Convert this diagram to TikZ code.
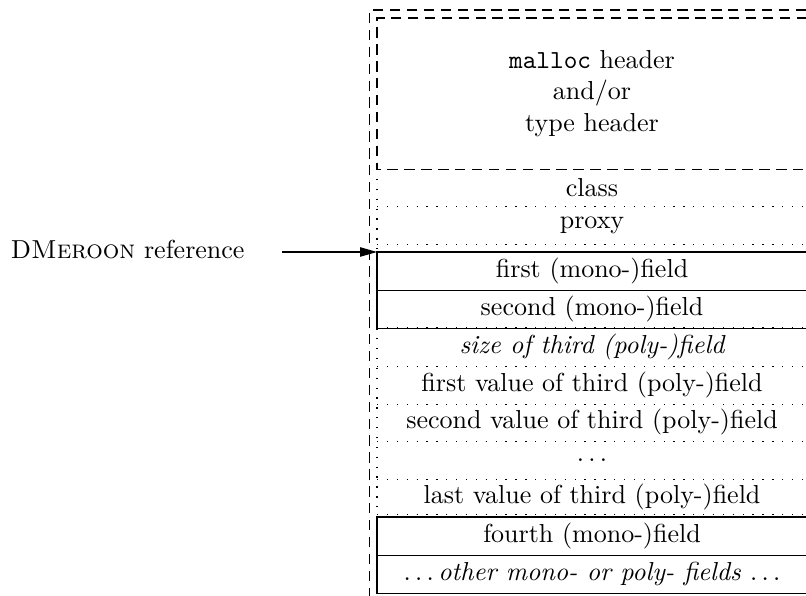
\documentclass[tikz,border=0pt]{standalone}
\usetikzlibrary{arrows.meta}
\begin{document}
\begin{tikzpicture}[x=0.3846pt,y=-0.3846pt,
	row/.style={anchor=north west,minimum width=165pt,minimum height=14.5pt,inner sep=0pt},
	framedash/.style={dash pattern=on 4pt off 2.5pt},
	dots/.style={dash pattern=on 0.5pt off 3.3pt},
	ptr/.style={-{Triangle[length=6.5pt,width=3.6pt]}}]
	\useasboundingbox (0,0) rectangle (806,596);
	\draw[framedash] (806,10) -- (369.5,10) -- (369.5,596);
	
	\node[row,minimum height=57.7pt,align=center] (hdr) at (377,18) {\texttt{malloc} header\\and/or\\type header};
	\draw[framedash] (hdr.north east) -- (hdr.north west) -- (hdr.south west) -- (hdr.south east);
	
	\node[row] (class) at (377,168) {class};
	\node[row] (proxy) at (377,206) {proxy};
	\node[row] (first) at (377,252) {first (mono-)field};
	\node[row] (second) at (377,289.5) {second (mono-)field};
	\draw[dots] (hdr.south west) -- (first.north west);
	\draw[dots] (class.south west) -- (class.south east);
	\draw[dots] (proxy.south west) -- (proxy.south east);
	\draw (first.north east) -- (first.north west) -- (second.south west) -- (second.south east);
	\draw (first.south west) -- (first.south east);
	
	\node[row] (size) at (377,328) {\itshape size of third (poly-)field};
	\node[row] (val1) at (377,365.5) {first value of third (poly-)field};
	\node[row] (val2) at (377,403) {second value of third (poly-)field};
	\node[row] (valdots) at (377,440.5) {$\ldots$};
	\node[row] (vallast) at (377,478) {last value of third (poly-)field};
	\draw[dots] (second.south west) -- (vallast.south west);
	\draw[dots] (size.north west) -- (size.north east);
	\draw[dots] (size.south west) -- (size.south east);
	\draw[dots] (val1.south west) -- (val1.south east);
	\draw[dots] (val2.south west) -- (val2.south east);
	\draw[dots] (valdots.south west) -- (valdots.south east);
	\draw[dots] ([yshift=1pt]vallast.south west) -- ([yshift=1pt]vallast.south east);
	
	\node[row] (fourth) at (377,517) {fourth (mono-)field};
	\node[row] (other) at (377,555) {$\ldots$\,\itshape other mono- or poly- fields $\ldots$};
	\draw (fourth.north east) -- (fourth.north west) -- (other.south west) -- (other.south east);
	\draw (fourth.south west) -- (fourth.south east);
	
	\node[anchor=west] (ref) at (2,250) {D\textsc{Meroon} reference};
	\coordinate (refstart) at (282,252);
	\draw[ptr] (refstart) -- (first.north west);
\end{tikzpicture}
\end{document}
